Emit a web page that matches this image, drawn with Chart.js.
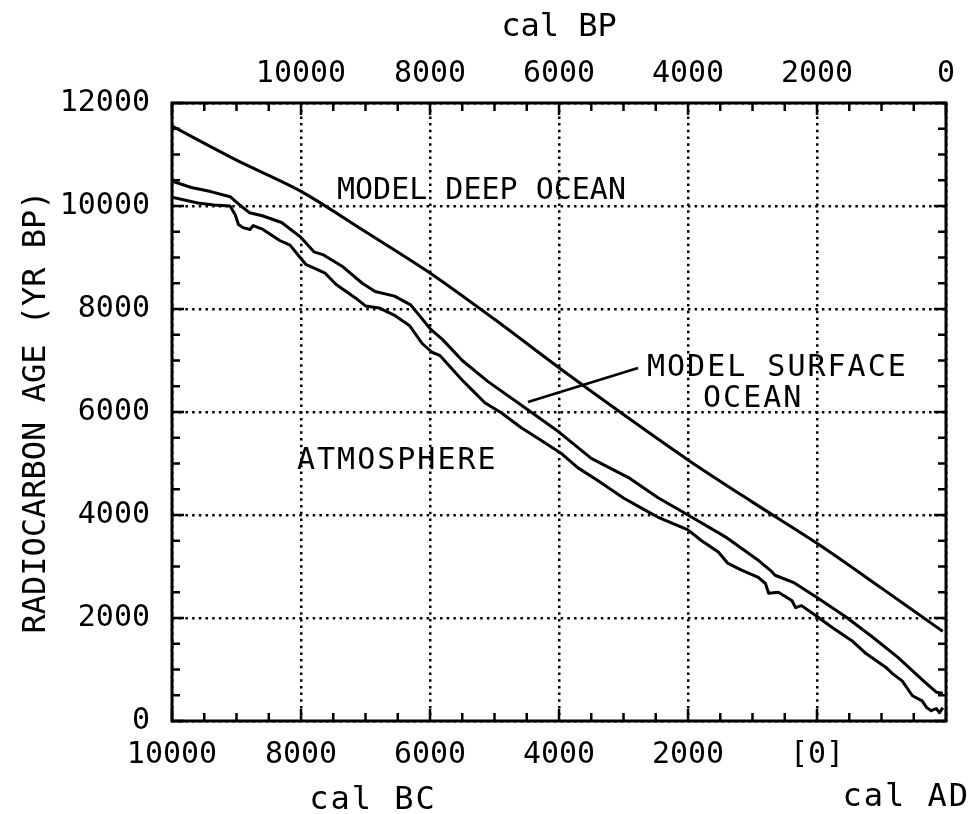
<!DOCTYPE html>
<html>
<head>
<meta charset="utf-8">
<script src="https://cdn.jsdelivr.net/npm/chart.js@4.4.1/dist/chart.umd.min.js"></script>
<style>
  html, body { margin: 0; padding: 0; background: #fff; }
  #c { display: block; }
</style>
</head>
<body>
<canvas id="c" width="975" height="814"></canvas>
<script>
// Calendar years (negative = BC) and radiocarbon ages (yr BP)
const deepYears = [-10000, -9000, -8000, -7000, -6000, -5000, -4000, -3000, -2000, -1000, 0, 1000, 1950];
const deepAge   = [11550, 10890, 10285, 9500, 8700, 7800, 6860, 5950, 5070, 4250, 3450, 2580, 1740];

const surfaceYears = [-10000, -9700, -9400, -9100, -8950, -8800, -8600, -8300, -8000, -7800, -7650, -7350,
  -7050, -6850, -6550, -6300, -6000, -5800, -5500, -5100, -4500, -4000, -3500, -2900, -2470, -2000,
  -1400, -900, -700, -650, -350, 0, 450, 850, 1250, 1650, 1850, 1950];
const surfaceAge = [10480, 10360, 10280, 10180, 10020, 9870, 9810, 9680, 9390, 9110, 9050, 8820,
  8500, 8340, 8250, 8080, 7620, 7400, 7000, 6590, 6060, 5610, 5100, 4710, 4340, 4000,
  3560, 3110, 2900, 2830, 2680, 2400, 2020, 1640, 1240, 780, 560, 540];

const atmosphereYears = [-10000, -9600, -9350, -9100, -9020, -8970, -8900, -8790, -8740, -8590, -8330, -8170,
  -8020, -7920, -7770, -7620, -7460, -7300, -7150, -7000, -6790, -6540, -6320, -6120, -5970, -5850,
  -5510, -5350, -5150, -4890, -4590, -4280, -3970, -3710, -3400, -3000, -2700, -2470, -2000, -1800,
  -1530, -1380, -1170, -910, -800, -750, -600, -390, -330, -240, -20, 230, 540, 760, 1070, 1170,
  1320, 1480, 1630, 1700, 1770, 1850, 1900, 1950];
const atmosphereAge = [10170, 10060, 10020, 10000, 9830, 9640, 9580, 9545, 9620, 9545, 9330, 9240,
  9010, 8860, 8780, 8690, 8480, 8340, 8210, 8060, 8020, 7870, 7680, 7330, 7160, 7100,
  6630, 6430, 6180, 5980, 5700, 5450, 5200, 4920, 4670, 4330, 4120, 3960, 3710, 3510,
  3280, 3060, 2930, 2790, 2670, 2480, 2500, 2340, 2200, 2240, 2050, 1820, 1560, 1310, 1040, 920,
  780, 490, 390, 260, 200, 240, 160, 260];

// Axis ticks and their labels
const calTicks  = [-10000, -8000, -6000, -4000, -2000, 0, 2000];
const calLabels = ['10000', '8000', '6000', '4000', '2000', '[0]', ''];
const bpTicks   = [12000, 10000, 8000, 6000, 4000, 2000, 0];
const bpLabels  = ['', '10000', '8000', '6000', '4000', '2000', '0'];
const ageTicks  = [0, 2000, 4000, 6000, 8000, 10000, 12000];
const ageLabels = ['0', '2000', '4000', '6000', '8000', '10000', '12000'];

const MONO = '"DejaVu Sans Mono", "Liberation Mono", monospace';

const toPoints = (xs, ys) => xs.map((x, i) => ({ x, y: ys[i] }));

// Closed frame with inward tick marks on all four sides
const frameTicks = {
  id: 'frameTicks',
  afterDatasetsDraw(chart, args, o) {
    const { ctx, chartArea: a } = chart;
    const xs = chart.scales.x, xt = chart.scales.xTop, ys = chart.scales.y;
    ctx.save();
    ctx.strokeStyle = '#000';
    ctx.lineWidth = o.tickWidth;
    ctx.beginPath();
    for (let v = xs.min; v <= xs.max; v += o.minorStep) {
      const p = xs.getPixelForValue(v);
      const len = v % o.majorStep === 0 ? o.majorLength : o.minorLength;
      ctx.moveTo(p, a.bottom); ctx.lineTo(p, a.bottom - len);
    }
    for (let v = xt.min; v <= xt.max; v += o.minorStep) {
      const p = xt.getPixelForValue(v);
      const len = v % o.majorStep === 0 ? o.majorLength : o.minorLength;
      ctx.moveTo(p, a.top); ctx.lineTo(p, a.top + len);
    }
    for (let v = ys.min; v <= ys.max; v += o.minorStep) {
      const p = ys.getPixelForValue(v);
      const len = v % o.majorStep === 0 ? o.majorLength : o.minorLength;
      ctx.moveTo(a.left, p); ctx.lineTo(a.left + len, p);
      ctx.moveTo(a.right, p); ctx.lineTo(a.right - len, p);
    }
    ctx.stroke();
    ctx.lineWidth = o.frameWidth;
    ctx.strokeRect(a.left, a.top, a.right - a.left, a.bottom - a.top);
    ctx.restore();
  }
};

// Curve names, the pointer to the surface-ocean curve, and the BC / AD captions
const curveLabels = {
  id: 'curveLabels',
  afterDatasetsDraw(chart, args, o) {
    const { ctx, chartArea: a } = chart;
    const xs = chart.scales.x, ys = chart.scales.y;
    ctx.save();
    ctx.fillStyle = '#000';
    ctx.strokeStyle = '#000';
    ctx.font = o.font;
    ctx.textAlign = 'left';
    ctx.textBaseline = 'middle';
    for (const n of o.notes) {
      ctx.letterSpacing = n.spacing;
      ctx.fillText(n.text, xs.getPixelForValue(n.x), ys.getPixelForValue(n.y));
    }
    const [p0, p1] = o.pointer;
    ctx.lineWidth = 2.6;
    ctx.beginPath();
    ctx.moveTo(xs.getPixelForValue(p0.x), ys.getPixelForValue(p0.y));
    ctx.lineTo(xs.getPixelForValue(p1.x), ys.getPixelForValue(p1.y));
    ctx.stroke();

    ctx.font = o.captionFont;
    ctx.letterSpacing = o.captionSpacing;
    ctx.textAlign = 'center';
    ctx.fillText('cal BC', a.left + 201, a.bottom + 80);
    ctx.textAlign = 'right';
    ctx.fillText('cal AD', chart.width - 5, a.bottom + 77);
    ctx.restore();
  }
};

const lineStyle = { borderColor: '#000', borderWidth: 3, pointRadius: 0, fill: false, tension: 0, borderJoinStyle: 'round' };

new Chart(document.getElementById('c'), {
  type: 'line',
  data: {
    datasets: [
      { label: 'MODEL DEEP OCEAN', data: toPoints(deepYears, deepAge), ...lineStyle, tension: 0.3 },
      { label: 'MODEL SURFACE OCEAN', data: toPoints(surfaceYears, surfaceAge), ...lineStyle },
      { label: 'ATMOSPHERE', data: toPoints(atmosphereYears, atmosphereAge), ...lineStyle }
    ]
  },
  options: {
    responsive: false,
    animation: false,
    devicePixelRatio: 1,
    layout: { padding: { left: 0, right: 29, top: 0, bottom: 0 } },
    plugins: {
      legend: { display: false },
      tooltip: { enabled: false },
      frameTicks: { tickWidth: 2.5, frameWidth: 3, minorStep: 500, majorStep: 2000, minorLength: 8, majorLength: 12 },
      curveLabels: {
        font: '30px ' + MONO,
        captionFont: '32px ' + MONO,
        captionSpacing: '2px',
        notes: [
          { text: 'MODEL DEEP OCEAN', x: -7442, y: 10291, spacing: '0px' },
          { text: 'MODEL SURFACE', x: -2636, y: 6854, spacing: '2px' },
          { text: 'OCEAN', x: -1767, y: 6252, spacing: '2px' },
          { text: 'ATMOSPHERE', x: -8062, y: 5049, spacing: '2px' }
        ],
        pointer: [{ x: -4481, y: 6194 }, { x: -2775, y: 6854 }]
      }
    },
    scales: {
      x: {
        type: 'linear', position: 'bottom', min: -10000, max: 2000,
        afterBuildTicks: s => { s.ticks = calTicks.map(v => ({ value: v })); },
        afterFit: s => { s.height = 93; },
        ticks: {
          color: '#000', padding: 16, maxRotation: 0, autoSkip: false,
          font: { family: MONO, size: 30 },
          callback: (v, i) => calLabels[i]
        },
        grid: { color: '#000', lineWidth: 2.5, drawTicks: false },
        border: { display: false, dash: [2.5, 4.2] }
      },
      xTop: {
        type: 'linear', position: 'top', min: 0, max: 12000, reverse: true,
        afterBuildTicks: s => { s.ticks = bpTicks.map(v => ({ value: v })); },
        afterFit: s => { s.height = 103; },
        ticks: {
          color: '#000', padding: 11, maxRotation: 0, autoSkip: false,
          font: { family: MONO, size: 30 },
          callback: (v, i) => bpLabels[i]
        },
        grid: { display: false, drawTicks: false },
        border: { display: false },
        title: { display: true, text: 'cal BP', color: '#000', font: { family: MONO, size: 32 }, padding: { top: 8, bottom: 0 } }
      },
      y: {
        type: 'linear', position: 'left', min: 0, max: 12000,
        afterBuildTicks: s => { s.ticks = ageTicks.map(v => ({ value: v })); },
        afterFit: s => { s.width = 172; },
        ticks: {
          color: '#000', padding: 22, autoSkip: false,
          font: { family: MONO, size: 30 },
          callback: (v, i) => ageLabels[i]
        },
        grid: { color: '#000', lineWidth: 2.5, drawTicks: false },
        border: { display: false, dash: [2.5, 4.2] },
        title: { display: true, text: 'RADIOCARBON AGE (YR BP)', color: '#000', font: { family: MONO, size: 32 }, padding: { top: 17, bottom: 0 } }
      }
    }
  },
  plugins: [frameTicks, curveLabels]
});
</script>
</body>
</html>
